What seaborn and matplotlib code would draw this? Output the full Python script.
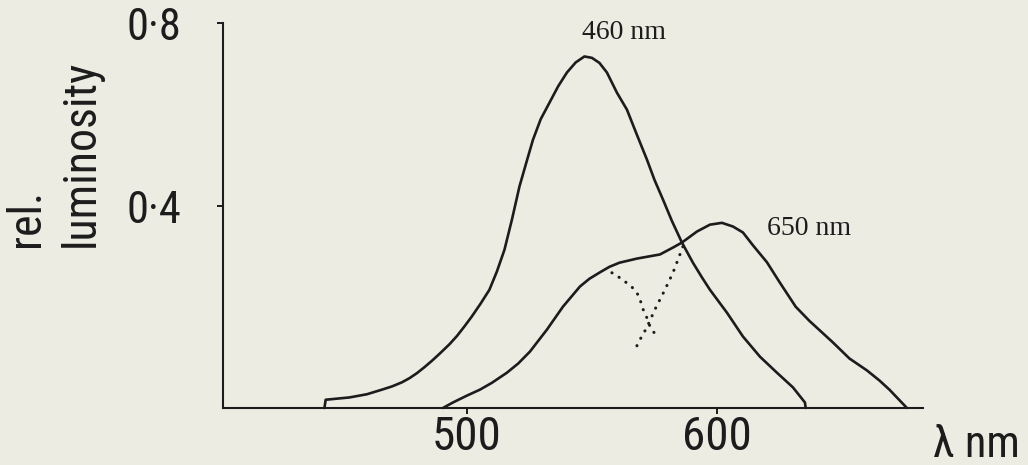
import matplotlib
matplotlib.use("Agg")
import matplotlib.pyplot as plt
from matplotlib import font_manager
import pandas as pd
import seaborn as sns

# 460 nm curve (wavelength nm, relative luminosity)
wl_460 = [443, 443.5, 453, 460, 466, 470, 474, 477, 480, 483, 486, 489, 493,
          496, 499, 502, 505.5, 509, 512, 515, 518, 521, 524, 526.4, 529.5,
          533, 536.5, 540, 543.5, 547, 550, 553, 556, 560, 564, 568, 572, 575,
          578.4, 582, 586, 590.4, 594, 597.2, 604, 610.4, 617.2, 624, 630.4,
          635.2, 635.5]
lum_460 = [-0.04, -0.022, -0.017, -0.01, 0.0, 0.007, 0.016, 0.025, 0.036, 0.049,
           0.063, 0.078, 0.099, 0.117, 0.138, 0.16, 0.188, 0.218, 0.258, 0.305,
           0.371, 0.443, 0.5, 0.545, 0.59, 0.626, 0.662, 0.692, 0.714, 0.727,
           0.724, 0.713, 0.692, 0.648, 0.611, 0.556, 0.502, 0.458, 0.415, 0.368,
           0.321, 0.277, 0.245, 0.218, 0.168, 0.116, 0.072, 0.037, 0.005,
           -0.028, -0.04]

# 650 nm curve
wl_650 = [490.4, 494.4, 500, 505.2, 510, 516, 520.5, 525.2, 532, 538.4, 545.2,
          549, 553.2, 557, 561, 568, 577.2, 582.4, 586, 592, 597.2, 602, 606.4,
          610.4, 614.4, 620, 625, 631.5, 637, 641, 646.4, 653, 660, 665, 669, 676]
lum_650 = [-0.04, -0.028, -0.013, 0.0, 0.015, 0.037, 0.057, 0.083, 0.131, 0.181,
           0.225, 0.242, 0.256, 0.268, 0.277, 0.286, 0.295, 0.31, 0.321, 0.345,
           0.36, 0.364, 0.356, 0.343, 0.315, 0.278, 0.235, 0.181, 0.15, 0.13,
           0.103, 0.068, 0.042, 0.02, 0.0, -0.04]

# dotted decomposition lines
wl_dot1 = [558, 561.2, 564.4, 567.2, 569.2, 569.9, 572.3, 573.2, 575.9]
lum_dot1 = [0.255, 0.244, 0.231, 0.218, 0.2, 0.182, 0.153, 0.138, 0.116]
wl_dot2 = [586.4, 582.4, 579.2, 575.2, 572, 569.2, 567.2]
lum_dot2 = [0.312, 0.255, 0.218, 0.175, 0.136, 0.109, 0.087]

x_ticks = [500, 600]
y_ticks = [0.4, 0.8]
y_tick_labels = ["0·4", "0·8"]

paper = "#ecece3"
ink = "#1c1c1c"

sns.set_style("ticks")
names = {f.name for f in font_manager.fontManager.ttflist}
narrow = next((n for n in ["Liberation Sans Narrow", "Roboto Condensed",
                           "Open Sans Condensed", "DejaVu Sans Condensed"]
               if n in names), "DejaVu Sans")
serif = "Liberation Serif" if "Liberation Serif" in names else "DejaVu Serif"
plt.rcParams["font.family"] = [narrow, "DejaVu Sans"]

fig = plt.figure(figsize=(10.28, 4.65), dpi=100, facecolor=paper)
ax = fig.add_axes([0.2166, 0.1226, 0.6812, 0.8279], facecolor=paper)

for wl, lum in [(wl_460, lum_460), (wl_650, lum_650)]:
    df = pd.DataFrame({"wl": wl, "lum": lum})
    sns.lineplot(data=df, x="wl", y="lum", ax=ax, color=ink, lw=1.9,
                 sort=False, estimator=None, clip_on=False)

for wl, lum in [(wl_dot1, lum_dot1), (wl_dot2, lum_dot2)]:
    df = pd.DataFrame({"wl": wl, "lum": lum})
    sns.lineplot(data=df, x="wl", y="lum", ax=ax, color=ink, lw=2.2,
                 linestyle=(0, (0.05, 2.7)), dash_capstyle="round",
                 sort=False, estimator=None)

ax.set_xlim(402.3, 682.4)
ax.set_ylim(-0.04, 0.80)
sns.despine(ax=ax)
for side in ["left", "bottom"]:
    ax.spines[side].set_linewidth(1.5)
    ax.spines[side].set_color(ink)

ax.set_xticks(x_ticks)
ax.set_yticks(y_ticks)
ax.set_yticklabels(y_tick_labels)
ax.tick_params(axis="both", direction="out", length=4.5, width=1.4,
               color=ink, labelsize=32, labelcolor=ink)
ax.tick_params(axis="y", pad=25)
ax.tick_params(axis="x", labelsize=34, pad=0.5)

ax.set_xlabel("λ nm", fontsize=32, color=ink, ha="left", va="center")
ax.xaxis.set_label_coords(1.014, -0.095)
ax.set_ylabel("")

fig.text(0.004, 0.469, "rel.\nluminosity", rotation=90, ha="left",
         va="bottom", multialignment="left", fontsize=33, color=ink,
         linespacing=1.3)

ax.text(562.8, 0.779, "460 nm", family=serif, fontsize=20, color=ink,
        ha="center", va="center")
ax.text(620, 0.351, "650 nm", family=serif, fontsize=20, color=ink,
        ha="left", va="center")

fig.savefig("out.png", dpi=100, facecolor=paper)
